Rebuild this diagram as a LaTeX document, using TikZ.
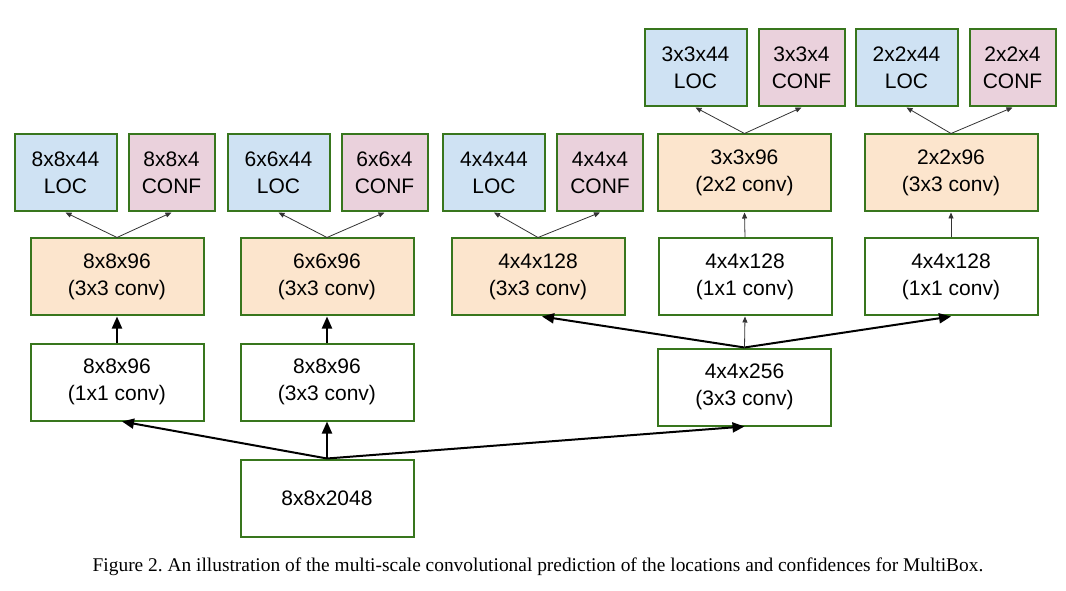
\documentclass[tikz,border=0pt]{standalone}
\usepackage{fontspec}
\setmainfont{Liberation Sans}
\newfontfamily\captionfont{Liberation Serif}
\usetikzlibrary{arrows.meta,positioning}
\definecolor{boxgreen}{RGB}{56,118,29}
\definecolor{locblue}{RGB}{207,226,243}
\definecolor{confpink}{RGB}{234,209,220}
\definecolor{predorange}{RGB}{252,229,205}
\frenchspacing

\begin{document}
\begin{tikzpicture}[
        x=1pt, y=1pt,
        node distance=10pt,
        layer/.style={rectangle, draw=boxgreen, fill=white, line width=2pt, minimum width=173pt, minimum height=77pt, inner sep=0pt, align=center, font=\fontsize{21}{27}\selectfont},
        pred/.style={layer, fill=predorange},
        loc/.style={layer, fill=locblue, minimum width=102pt},
        conf/.style={layer, fill=confpink, minimum width=86pt},
        head/.style={-{Triangle[length=6pt, width=5pt]}, line width=0.8pt, draw=black!80},
        flow/.style={-{Triangle[length=12pt, width=10pt]}, line width=2pt}
    ]
        \useasboundingbox (0,0) rectangle (1066,590);

        % Base feature map and first branches
        \node[layer] (base) at (327,92) {8x8x2048};
        \node[layer] (conv8a) at (117,208) {8x8x96\\(1x1 conv)};
        \node[layer] (conv8b) at (327,208) {8x8x96\\(3x3 conv)};
        \node[layer] (conv4) at (744.5,203) {4x4x256\\(3x3 conv)};
        \node[layer] (red3) at (745,313) {4x4x128\\(1x1 conv)};
        \node[layer] (red2) at (951,313) {4x4x128\\(1x1 conv)};

        % Prediction layers
        \node[pred] (pred8) at (117,313) {8x8x96\\(3x3 conv)};
        \node[pred] (pred6) at (327,313) {6x6x96\\(3x3 conv)};
        \node[pred] (pred4) at (538,313) {4x4x128\\(3x3 conv)};
        \node[pred] (pred3) at (744.5,417) {3x3x96\\(2x2 conv)};
        \node[pred] (pred2) at (951,417) {2x2x96\\(3x3 conv)};

        % Location and confidence outputs
        \node[loc] (loc8) at (65.5,417) {8x8x44\\LOC};
        \node[conf, right=of loc8] (conf8) {8x8x4\\CONF};
        \node[loc] (loc6) at (278.5,417) {6x6x44\\LOC};
        \node[conf, right=of loc6] (conf6) {6x6x4\\CONF};
        \node[loc] (loc4) at (494,417) {4x4x44\\LOC};
        \node[conf, right=of loc4] (conf4) {4x4x4\\CONF};
        \node[loc] (loc3) at (695.5,522) {3x3x44\\LOC};
        \node[conf, right=of loc3] (conf3) {3x3x4\\CONF};
        \node[loc] (loc2) at (906.5,522) {2x2x44\\LOC};
        \node[conf, right=of loc2] (conf2) {2x2x4\\CONF};

        % Caption
        \node[anchor=base, font=\captionfont\fontsize{19.4}{22}\selectfont] (caption) at (538,19) {Figure 2. An illustration of the multi-scale convolutional prediction of the locations and confidences for MultiBox.};

        % Thick arrows
        \draw[flow] (base.north) -- ([xshift=5pt]conv8a.south);
        \draw[flow] (base.north) -- (conv8b.south);
        \draw[flow] (base.north) -- (conv4.south);
        \draw[flow] (conv8a.north) -- (pred8.south);
        \draw[flow] (conv8b.north) -- (pred6.south);
        \draw[flow] (conv4.north) -- ([xshift=4pt]pred4.south);
        \draw[flow] (conv4.north) -- (red2.south);

        % Thin arrows
        \draw[head] (conv4.north) -- (red3.south);
        \draw[head] (red3.north) -- (pred3.south);
        \draw[head] (red2.north) -- (pred2.south);
        \draw[head] (pred8.north) -- (loc8.south);
        \draw[head] (pred8.north) -- (conf8.south);
        \draw[head] (pred6.north) -- (loc6.south);
        \draw[head] (pred6.north) -- (conf6.south);
        \draw[head] (pred4.north) -- (loc4.south);
        \draw[head] (pred4.north) -- (conf4.south);
        \draw[head] (pred3.north) -- (loc3.south);
        \draw[head] (pred3.north) -- (conf3.south);
        \draw[head] (pred2.north) -- (loc2.south);
        \draw[head] (pred2.north) -- (conf2.south);

    \end{tikzpicture}
\end{document}
